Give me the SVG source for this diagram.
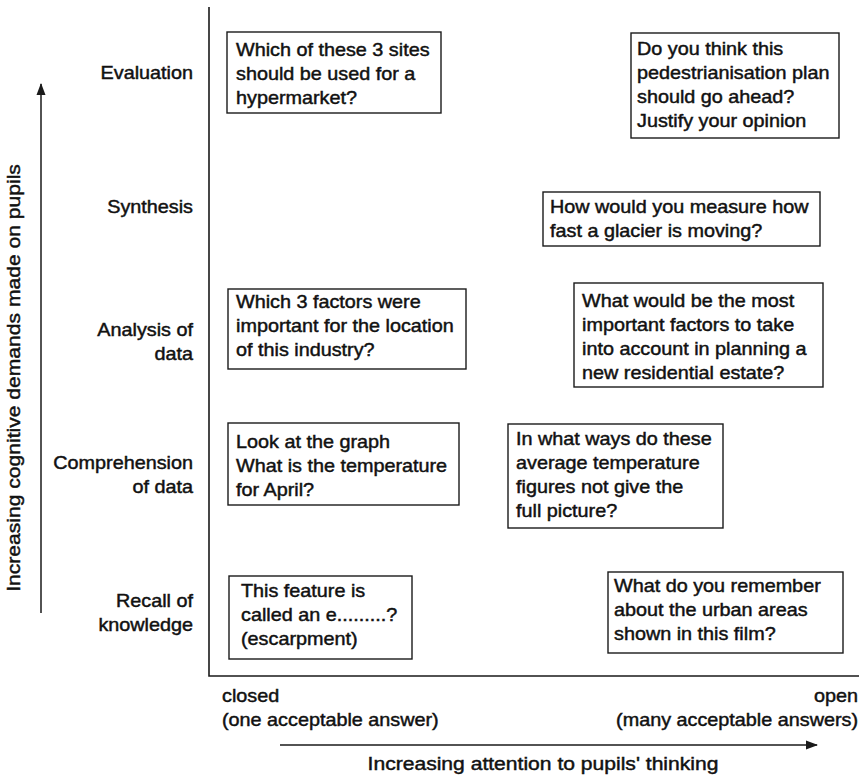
<svg xmlns="http://www.w3.org/2000/svg" width="862" height="780" viewBox="0 0 862 780">
  <style>
    text { font-family: "Liberation Sans", Arial, Helvetica, sans-serif; font-size: 18px; fill: #111; stroke: #111; stroke-width: 0.45; }
    .cap { font-size: 18.5px; }
    .box { fill: #fff; stroke: #1a1a1a; stroke-width: 1.4; }
    .axis { stroke: #1a1a1a; stroke-width: 1.6; fill: none; }
    .arrow { stroke: #1a1a1a; stroke-width: 1.5; fill: none; marker-end: url(#head); }
    .end { text-anchor: end; }
    .mid { text-anchor: middle; }
  </style>
  <defs>
    <marker id="head" viewBox="0 0 12 10" refX="11" refY="5" markerWidth="12" markerHeight="10" markerUnits="userSpaceOnUse" orient="auto">
      <path d="M0,0.5 L12,5 L0,9.5 Z" fill="#1a1a1a"/>
    </marker>
  </defs>
  <rect width="862" height="780" fill="#fff"/>

  <!-- axes and direction arrows -->
  <g id="connectors">
    <path class="axis" d="M209,7 V676 H859"/>
    <path class="arrow" d="M41,613 V84"/>
    <path class="arrow" d="M280,745 H817"/>
  </g>

  <!-- axis captions -->
  <g id="axis-labels">
    <text class="mid cap" transform="translate(20 378) rotate(-90) scale(1.14 1)">Increasing cognitive demands made on pupils</text>
    <text class="mid cap" transform="translate(543 770) scale(1.14 1)">Increasing attention to pupils' thinking</text>
    <text transform="translate(222 702) scale(1.1 1)"><tspan x="0" y="0">closed</tspan><tspan x="0" y="24">(one acceptable answer)</tspan></text>
    <text class="end" transform="translate(858 702) scale(1.1 1)"><tspan x="0" y="0">open</tspan><tspan x="0" y="24">(many acceptable answers)</tspan></text>
  </g>

  <!-- cognitive levels -->
  <g id="levels">
    <text class="end" transform="translate(193 79) scale(1.1 1)">Evaluation</text>
    <text class="end" transform="translate(193 213) scale(1.1 1)">Synthesis</text>
    <text class="end" transform="translate(193 336) scale(1.1 1)"><tspan x="0" y="0">Analysis of</tspan><tspan x="0" y="24">data</tspan></text>
    <text class="end" transform="translate(193 469) scale(1.1 1)"><tspan x="0" y="0">Comprehension</tspan><tspan x="0" y="24">of data</tspan></text>
    <text class="end" transform="translate(193 607) scale(1.1 1)"><tspan x="0" y="0">Recall of</tspan><tspan x="0" y="24">knowledge</tspan></text>
  </g>

  <!-- question boxes -->
  <g id="q-eval-closed">
    <rect class="box" x="227" y="32" width="214" height="81"/>
    <text transform="translate(236 56) scale(1.1 1)"><tspan x="0" y="0">Which of these 3 sites</tspan><tspan x="0" y="24">should be used for a</tspan><tspan x="0" y="48">hypermarket?</tspan></text>
  </g>
  <g id="q-eval-open">
    <rect class="box" x="631" y="33" width="208" height="105"/>
    <text transform="translate(637 55) scale(1.1 1)"><tspan x="0" y="0">Do you think this</tspan><tspan x="0" y="24">pedestrianisation plan</tspan><tspan x="0" y="48">should go ahead?</tspan><tspan x="0" y="72">Justify your opinion</tspan></text>
  </g>
  <g id="q-synthesis">
    <rect class="box" x="543" y="192" width="277" height="54"/>
    <text transform="translate(550 213) scale(1.1 1)"><tspan x="0" y="0">How would you measure how</tspan><tspan x="0" y="24">fast a glacier is moving?</tspan></text>
  </g>
  <g id="q-analysis-closed">
    <rect class="box" x="228" y="289" width="238" height="80"/>
    <text transform="translate(236 308) scale(1.1 1)"><tspan x="0" y="0">Which 3 factors were</tspan><tspan x="0" y="24">important for the location</tspan><tspan x="0" y="48">of this industry?</tspan></text>
  </g>
  <g id="q-analysis-open">
    <rect class="box" x="574" y="283" width="249" height="104"/>
    <text transform="translate(582 307) scale(1.1 1)"><tspan x="0" y="0">What would be the most</tspan><tspan x="0" y="24">important factors to take</tspan><tspan x="0" y="48">into account in planning a</tspan><tspan x="0" y="72">new residential estate?</tspan></text>
  </g>
  <g id="q-comprehension-closed">
    <rect class="box" x="228" y="423" width="231" height="82"/>
    <text transform="translate(236 448) scale(1.1 1)"><tspan x="0" y="0">Look at the graph</tspan><tspan x="0" y="24">What is the temperature</tspan><tspan x="0" y="48">for April?</tspan></text>
  </g>
  <g id="q-comprehension-open">
    <rect class="box" x="508" y="424" width="215" height="104"/>
    <text transform="translate(516 445) scale(1.1 1)"><tspan x="0" y="0">In what ways do these</tspan><tspan x="0" y="24">average temperature</tspan><tspan x="0" y="48">figures not give the</tspan><tspan x="0" y="72">full picture?</tspan></text>
  </g>
  <g id="q-recall-closed">
    <rect class="box" x="229" y="576" width="183" height="83"/>
    <text transform="translate(241 597) scale(1.1 1)"><tspan x="0" y="0">This feature is</tspan><tspan x="0" y="24">called an e.........?</tspan><tspan x="0" y="48">(escarpment)</tspan></text>
  </g>
  <g id="q-recall-open">
    <rect class="box" x="608" y="572" width="235" height="81"/>
    <text transform="translate(614 592) scale(1.1 1)"><tspan x="0" y="0">What do you remember</tspan><tspan x="0" y="24">about the urban areas</tspan><tspan x="0" y="48">shown in this film?</tspan></text>
  </g>
</svg>
